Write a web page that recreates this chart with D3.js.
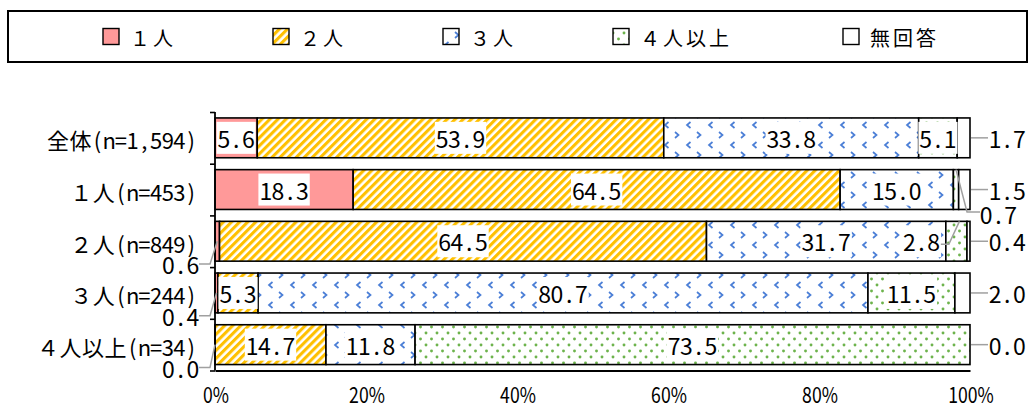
<!DOCTYPE html>
<html><head><meta charset="utf-8">
<script src="https://cdn.jsdelivr.net/npm/d3@7"></script>
<style>body{margin:0;background:#fff} svg{display:block}</style>
</head><body><svg id="c" width="1030" height="409"></svg>
<script>
// ---------- data ----------
const categories = ["全体(n=1,594)","１人(n=453)","２人(n=849)","３人(n=244)","４人以上(n=34)"];
const seriesNames = ["１人","２人","３人","４人以上","無回答"];
const s1 = [5.6, 18.3, 0.6, 0.4, 0.0];
const s2 = [53.9, 64.5, 64.5, 5.3, 14.7];
const s3 = [33.8, 15.0, 31.7, 80.7, 11.8];
const s4 = [5.1, 0.7, 2.8, 11.5, 73.5];
const s5 = [1.7, 1.5, 0.4, 2.0, 0.0];
const tickValues = [0, 20, 40, 60, 80, 100];
const tickLabels = ["0%","20%","40%","60%","80%","100%"];
// label placement kind per series, per row
const placement = [
  ["in","in","left","left","left"],
  ["in","in","in","in","in"],
  ["in","in","in","in","in"],
  ["in","below","beside","in","in"],
  ["right","right","right","right","right"]
];

// ---------- setup ----------
const FONT = "'Noto Sans CJK JP','Noto Sans',sans-serif";
const svg = d3.select("#c").attr("font-family", FONT);
const series = [s1, s2, s3, s4, s5];
const fills = ["#FF9999", "url(#p2)", "url(#p3)", "url(#p4)", "#FFFFFF"];

const defs = svg.append("defs");
const p2 = defs.append("pattern").attr("id","p2").attr("patternUnits","userSpaceOnUse")
  .attr("width",5.7).attr("height",5.7).attr("patternTransform","rotate(45)");
p2.append("rect").attr("width",5.7).attr("height",5.7).attr("fill","#fff");
p2.append("rect").attr("width",3.1).attr("height",5.7).attr("fill","#FFC000");
const p3 = defs.append("pattern").attr("id","p3").attr("patternUnits","userSpaceOnUse")
  .attr("width",22).attr("height",20);
p3.append("rect").attr("width",22).attr("height",20).attr("fill","#fff");
p3.append("path").attr("d","M8.5,2L5,5L8.5,8M15,12L18.5,15L15,18")
  .attr("fill","none").attr("stroke","#4A7ED6").attr("stroke-width",1.7);
const p4 = defs.append("pattern").attr("id","p4").attr("patternUnits","userSpaceOnUse")
  .attr("width",11).attr("height",12);
p4.append("rect").attr("width",11).attr("height",12).attr("fill","#fff");
p4.append("circle").attr("cx",2.5).attr("cy",3).attr("r",1.45).attr("fill","#6DB34C");
p4.append("circle").attr("cx",8).attr("cy",9).attr("r",1.45).attr("fill","#6DB34C");

const measurer = svg.append("text").attr("visibility","hidden");
function charW(ch, size){ measurer.attr("font-size", size).text(ch); return measurer.node().getComputedTextLength(); }
// lay out text in fixed cells (half-width / full-width), like a monospaced Japanese font
function monoText(g, str, o){
  const chars = Array.from(str);
  const cells = chars.map(c => c.charCodeAt(0) > 0xff ? o.full : o.half);
  const total = d3.sum(cells);
  let x0 = o.anchor === "end" ? o.x - total : o.anchor === "middle" ? o.x - total/2 : o.x;
  const xs = [];
  chars.forEach((c,i) => { const w = charW(c, o.size); xs.push(x0 + (cells[i]-w)/2); x0 += cells[i]; });
  return g.append("text").attr("x", xs.map(v => v.toFixed(2)).join(" "))
    .attr("y", o.y).attr("font-size", o.size).attr("dominant-baseline","central")
    .attr("fill","#000").text(str);
}

// ---------- legend ----------
const leg = svg.append("g");
leg.append("rect").attr("x",8).attr("y",11).attr("width",1019).attr("height",51)
  .attr("fill","#fff").attr("stroke","#000").attr("stroke-width",2);
const legX = [103, 273, 443, 613, 843];
seriesNames.forEach((n,i) => {
  leg.append("rect").attr("x",legX[i]).attr("y",28.5).attr("width",16).attr("height",16)
    .attr("fill",fills[i]).attr("stroke","#000").attr("stroke-width",1.4);
  monoText(leg, n, {x: legX[i]+25.5, y: 37, anchor:"start", size:20, half:11.5, full:23});
});

// ---------- scales ----------
const x = d3.scaleLinear().domain([0,100]).range([215,970]);
const y = d3.scaleBand().domain(categories).range([112,370.5]).paddingInner(0.23).paddingOuter(0.115);
const bw = y.bandwidth();
const boundary = d3.scaleLinear().domain([0, categories.length]).range([112,370.5]);

// stacked, normalised to 100%
const rows = categories.map((c,r) => {
  const vals = series.map(s => s[r]);
  const tot = d3.sum(vals);
  let cum = 0;
  return vals.map((v,k) => { const a = cum/tot*100; cum += v; return {cat:c, r, k, v, a, b: cum/tot*100}; });
});

const bars = svg.append("g");
rows.forEach(segs => segs.forEach(d => {
  bars.append("rect").attr("x", x(d.a)).attr("y", y(d.cat))
    .attr("width", Math.max(0, x(d.b)-x(d.a))).attr("height", bw)
    .attr("fill", fills[d.k]).attr("stroke","#000").attr("stroke-width",1.6);
}));

// ---------- axes ----------
const axL = svg.append("g").attr("transform","translate(215,0)")
  .call(d3.axisLeft(boundary).ticks(categories.length).tickSize(5).tickFormat(""));
axL.select(".domain").attr("stroke","#000").attr("stroke-width",1.8).attr("d","M0,112V370.5");
axL.selectAll(".tick line").attr("stroke","#000").attr("stroke-width",1.6);
const axB = svg.append("g").attr("transform","translate(0,370.5)")
  .call(d3.axisBottom(x).tickValues(tickValues).tickSize(0).tickFormat(""));
axB.select(".domain").attr("stroke","#000").attr("stroke-width",1.8);
const tl = svg.append("g").attr("font-size",21).attr("text-anchor","middle");
tickValues.forEach((t,i) => tl.append("text")
  .attr("transform", `translate(${x(t)+1},402.5) scale(0.84,1.05)`)
  .text(tickLabels[i]));

// category labels
const cl = svg.append("g");
categories.forEach(c => monoText(cl, c, {x: 197, y: y(c)+bw/2+1.5, anchor:"end", size:22, half:11.7, full:22.5}));

// ---------- data labels ----------
const fmt = d3.format(".1f");
const lab = svg.append("g");
const lead = svg.append("g").attr("fill","none").attr("stroke","#A0A0A0").attr("stroke-width",1.5);
const LS = {size:23, half:12.2, full:24};
function withBg(t){
  const bb = t.node().getBBox();
  lab.insert("rect", () => t.node()).attr("x",bb.x-1).attr("y",bb.y+1).attr("width",bb.width+2)
    .attr("height",bb.height-2).attr("fill","#fff");
}
rows.forEach(segs => segs.forEach(d => {
  const kind = placement[d.k][d.r];
  const yc = y(d.cat) + bw/2;
  const xa = x(d.a), xb = x(d.b), xm = (xa+xb)/2;
  const txt = fmt(d.v);
  if (kind === "in") {
    const t = monoText(lab, txt, Object.assign({x: xm, y: yc, anchor:"middle"}, LS));
    withBg(t);
  } else if (kind === "right") {
    const xr = x(100);
    lead.append("path").attr("d", `M${xr+1},${yc}H${xr+18}`);
    monoText(lab, txt, Object.assign({x: xr+19, y: yc, anchor:"start"}, LS));
  } else if (kind === "left") {
    const ly = boundary(d.r+1) - 3;
    lead.append("path").attr("d", `M${xm},${yc}L${x(0)-5},${ly}H${x(0)-16}`);
    monoText(lab, txt, Object.assign({x: x(0)-16, y: ly, anchor:"end"}, LS));
  } else if (kind === "below") {
    const ly = boundary(d.r+1) - 1.5;
    lead.append("path").attr("d", `M${xm},${y(d.cat)}L${xm+11},${ly-2}H${xm+24}`);
    monoText(lab, txt, Object.assign({x: xm+24, y: ly, anchor:"start"}, LS));
  } else if (kind === "beside") {
    const xe = xa - 6;
    lead.append("path").attr("d", `M${xe+1},${yc+3}H${xe+9}L${xm+3},${y(d.cat)}`);
    const t = monoText(lab, txt, Object.assign({x: xe, y: yc, anchor:"end"}, LS));
    withBg(t);
  }
}));
measurer.remove();
</script></body></html>
